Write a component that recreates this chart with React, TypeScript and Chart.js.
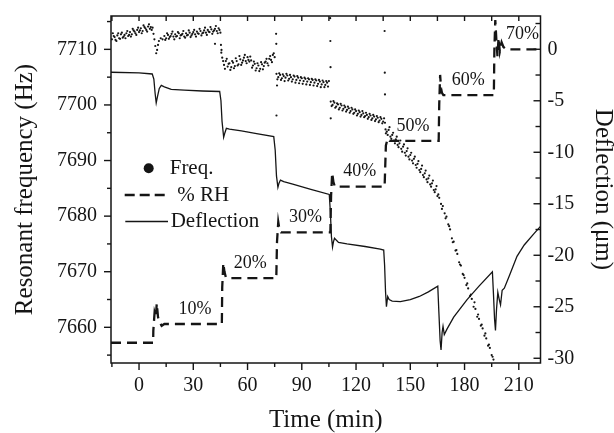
import React, { useEffect, useRef } from "react";
import { Chart, registerables } from "chart.js";

Chart.register(...registerables);

// ---------- data ----------
// Resonant frequency samples (time in min, frequency in Hz)
const freqTime = [
  -15, -14, -13, -12, -11, -10, -9, -8, -7, -6, -5, -4, -3, -2, -1, 0, 1, 2, 3, 4, 5, 6, 7, 8,
  9, 9.5, 10, 10.5, 11, 12, 13, 14,
  15, 16, 17, 18, 19, 20, 21, 22, 23, 24, 25, 26, 27, 28, 29, 30, 31, 32, 33, 34, 35, 36, 37, 38, 39, 40, 41, 42, 43, 44, 45,
  46, 47, 48, 49, 50, 51, 52, 53, 54, 55, 56, 57, 58, 59, 60, 61, 62, 63, 64, 65, 66, 67, 68, 69, 70, 71, 72, 73, 74, 75,
  76, 77, 78, 79, 80, 81, 82, 83, 84, 85, 86, 87, 88, 89, 90, 91, 92, 93, 94, 95, 96, 97, 98, 99, 100, 101, 102, 103, 104, 105,
  106, 107, 108, 109, 110, 111, 112, 113, 114, 115, 116, 117, 118, 119, 120, 121, 122, 123, 124, 125, 126, 127, 128, 129, 130, 131, 132, 133, 134, 135,
  136, 137, 138, 139, 140, 141, 142, 143, 144, 145, 146, 147, 148, 149, 150, 151, 152, 153, 154, 155, 156, 157, 158, 159, 160,
  161, 162, 163, 164, 165, 166, 167, 168, 169, 170, 171, 172, 173, 174, 175, 176, 177, 178, 179, 180,
  181, 182, 183, 184, 185, 186, 187, 188, 189, 190, 191, 192, 193, 194, 195, 196,
  42, 45.3, 45.6, 75.8, 75.9, 76.0, 76.3, 105.7, 105.8, 105.9, 106.0, 135.8, 135.9, 136.0, 136.3, 136.5,
  -14.5, -13.5, -12.5, -11.5, -10.5, -9.5, -8.5, -7.5, -6.5, -5.5, -4.5, -3.5, -2.5, -1.5, -0.5, 0.5, 1.5, 2.5, 3.5, 4.5, 5.5, 6.5, 7.5, 8.5,
  14.5, 15.5, 16.5, 17.5, 18.5, 19.5, 20.5, 21.5, 22.5, 23.5, 24.5, 25.5, 26.5, 27.5, 28.5, 29.5, 30.5, 31.5, 32.5, 33.5, 34.5, 35.5, 36.5, 37.5, 38.5, 39.5, 40.5, 41.5, 42.5, 43.5, 44.5,
  45.5, 46.5, 47.5, 48.5, 49.5, 50.5, 51.5, 52.5, 53.5, 54.5, 55.5, 56.5, 57.5, 58.5, 59.5, 60.5, 61.5, 62.5, 63.5, 64.5, 65.5, 66.5, 67.5, 68.5, 69.5, 70.5, 71.5, 72.5, 73.5, 74.5,
  76.5, 77.5, 78.5, 79.5, 80.5, 81.5, 82.5, 83.5, 84.5, 85.5, 86.5, 87.5, 88.5, 89.5, 90.5, 91.5, 92.5, 93.5, 94.5, 95.5, 96.5, 97.5, 98.5, 99.5, 100.5, 101.5, 102.5, 103.5, 104.5,
  106.5, 107.5, 108.5, 109.5, 110.5, 111.5, 112.5, 113.5, 114.5, 115.5, 116.5, 117.5, 118.5, 119.5, 120.5, 121.5, 122.5, 123.5, 124.5, 125.5, 126.5, 127.5, 128.5, 129.5, 130.5, 131.5, 132.5, 133.5, 134.5, 135.5,
  137.5, 138.5, 139.5, 140.5, 141.5, 142.5, 143.5, 144.5, 145.5, 146.5, 147.5, 148.5, 149.5, 150.5, 151.5, 152.5, 153.5, 154.5, 155.5, 156.5, 157.5, 158.5, 159.5, 160.5, 161.5, 162.5, 163.5, 164.5, 165.5,
  167.5, 169.5, 171.5, 173.5, 175.5, 177.5, 179.5, 181.5, 183.5, 185.5, 187.5, 189.5, 191.5, 193.5, 195.5,
];
const freqHz = [
  7711.8, 7712.4, 7711.7, 7712.5, 7712.0, 7712.7, 7712.1, 7712.6, 7712.9, 7712.4, 7713.1, 7712.7, 7713.4, 7712.9, 7713.5, 7713.1, 7713.8, 7713.3, 7714.0, 7713.5, 7714.1, 7713.7, 7713.5, 7712.8,
  7710.6, 7709.3, 7709.9, 7710.8, 7711.5, 7712.0, 7711.8, 7712.4,
  7712.0, 7712.6, 7712.2, 7712.8, 7712.3, 7712.7, 7712.4, 7712.9, 7712.5, 7712.8, 7712.3, 7712.9, 7712.6, 7713.0, 7712.5, 7713.1, 7712.7, 7713.2, 7712.8, 7713.3, 7712.9, 7713.4, 7713.0, 7713.5, 7713.1, 7713.6, 7713.2, 7713.7, 7713.3, 7713.8, 7713.0,
  7708.5, 7707.2, 7707.9, 7706.9, 7707.5, 7706.8, 7707.6, 7707.0, 7707.9, 7707.3, 7708.2, 7707.6, 7708.5, 7707.9, 7708.6, 7707.8, 7708.0, 7707.1, 7707.4, 7706.6, 7707.1, 7706.5, 7707.3, 7707.0, 7707.8, 7707.5, 7708.3, 7708.1, 7709.0, 7708.6,
  7705.6, 7705.0, 7705.4, 7704.8, 7705.2, 7704.9, 7705.3, 7704.7, 7705.0, 7704.6, 7705.1, 7704.5, 7704.9, 7704.4, 7704.8, 7704.3, 7704.7, 7704.2, 7704.6, 7704.1, 7704.5, 7704.0, 7704.4, 7703.8, 7704.2, 7703.7, 7704.1, 7703.6, 7704.0, 7704.3,
  7700.6, 7700.0, 7700.4, 7699.7, 7700.1, 7699.5, 7699.9, 7699.3, 7699.6, 7699.1, 7699.4, 7698.9, 7699.2, 7698.6, 7698.9, 7698.4, 7698.7, 7698.2, 7698.5, 7698.0, 7698.2, 7697.8, 7698.1, 7697.6, 7697.9, 7697.4, 7697.7, 7697.2, 7697.5, 7697.0,
  7696.8, 7695.2, 7695.5, 7694.3, 7694.6, 7693.6, 7693.8, 7692.8, 7693.1, 7692.1, 7692.5, 7691.4, 7691.7, 7690.7, 7691.0, 7690.0, 7690.3, 7689.2, 7689.4, 7688.3, 7688.5, 7687.4, 7687.7, 7686.6, 7686.8,
  7685.7, 7685.9, 7684.7, 7684.8, 7683.6, 7683.3, 7682.2, 7681.8, 7680.5, 7679.9, 7678.5, 7677.6, 7676.0, 7675.4, 7673.8, 7673.2, 7671.7, 7671.1, 7669.6, 7668.9,
  7667.6, 7667.0, 7665.6, 7665.1, 7663.7, 7663.3, 7661.9, 7661.5, 7660.3, 7659.8, 7658.5, 7658.0, 7656.7, 7656.3, 7655.0, 7654.2,
  7711.0, 7710.8, 7709.9, 7712.8, 7711.0, 7698.1, 7703.5, 7715.6, 7711.5, 7706.8, 7697.6, 7713.3, 7705.8, 7701.9, 7695.6, 7694.9,
  7712.9, 7712.2, 7711.5, 7712.9, 7711.9, 7713.0, 7712.3, 7712.0, 7713.3, 7712.6, 7712.3, 7713.7, 7713.2, 7712.6, 7713.9, 7713.4, 7712.9, 7714.3, 7713.8, 7713.2, 7714.5, 7714.0, 7713.9, 7711.8,
  7711.7, 7712.9, 7711.9, 7712.4, 7713.2, 7711.8, 7712.3, 7713.1, 7712.0, 7712.6, 7713.3, 7712.1, 7712.5, 7713.4, 7712.2, 7712.8, 7713.5, 7712.3, 7712.9, 7713.7, 7712.5, 7713.0, 7713.9, 7712.6, 7713.2, 7714.0, 7712.8, 7713.4, 7714.2, 7712.9, 7713.5,
  7709.4, 7707.9, 7706.5, 7708.3, 7707.4, 7706.3, 7707.9, 7706.6, 7708.4, 7707.1, 7708.8, 7707.2, 7708.0, 7709.0, 7707.5, 7708.1, 7708.7, 7706.7, 7707.8, 7706.2, 7707.5, 7706.1, 7707.7, 7706.4, 7707.6, 7708.3, 7707.1, 7708.8, 7707.7, 7709.3,
  7704.6, 7705.7, 7704.5, 7705.5, 7704.3, 7705.6, 7704.4, 7705.4, 7704.2, 7705.3, 7704.0, 7705.2, 7703.9, 7705.0, 7703.8, 7704.9, 7703.7, 7704.8, 7703.6, 7704.7, 7703.5, 7704.6, 7703.4, 7704.5, 7703.2, 7704.4, 7703.2, 7704.3, 7703.3,
  7699.8, 7700.7, 7699.5, 7700.3, 7699.2, 7700.2, 7699.0, 7699.9, 7698.8, 7699.7, 7698.6, 7699.5, 7698.4, 7699.2, 7698.1, 7699.0, 7697.9, 7698.9, 7697.8, 7698.6, 7697.5, 7698.4, 7697.3, 7698.2, 7697.1, 7698.0, 7696.9, 7697.8, 7696.7, 7697.6,
  7694.6, 7696.0, 7693.9, 7695.0, 7693.1, 7694.3, 7692.4, 7693.6, 7691.6, 7692.9, 7690.9, 7692.2, 7690.2, 7691.4, 7689.5, 7690.7, 7688.7, 7689.9, 7687.9, 7689.1, 7687.0, 7688.2, 7686.1, 7687.3, 7685.3, 7686.4, 7684.3, 7685.4, 7683.9,
  7681.3, 7679.6, 7678.2, 7675.3, 7673.9, 7671.3, 7669.4, 7667.9, 7665.9, 7664.5, 7662.3, 7660.5, 7658.9, 7656.9, 7654.7,
];

// Relative humidity program (time in min, % RH)
const rhTime = [
  -15.5, 7.8, 7.9, 8.6, 9.3, 9.8, 10.5, 11.5, 12.5, 14,
  45.8, 46.0, 46.6, 47.2, 48, 49.5,
  75.9, 76.3, 77.0, 77.6, 78.5,
  105.8, 106.2, 106.8, 107.5, 108.3,
  135.8, 136.5, 137.5, 138.5,
  165.7, 166.0, 166.5, 167.0, 167.5, 168.3,
  196.2, 196.5, 197.0, 197.6, 198.2, 198.8, 199.5, 200.5, 201.5, 203, 222,
];
const rhPercent = [
  5.9, 5.9, 8.5, 12.5, 11.5, 14.5, 11.5, 10.3, 9.6, 10,
  10, 18, 23.3, 21.5, 20.2, 20,
  20, 28, 32.3, 30.8, 30,
  30, 38, 43, 41, 40,
  40, 49, 50.5, 50,
  50, 58, 64.4, 61.5, 60.5, 60,
  60, 70, 76.4, 72, 68.5, 72.5, 69.5, 71.5, 70.5, 70, 70,
];

// Cantilever deflection (time in min, deflection in µm)
const deflTime = [
  -15.5, 0, 7.3, 8.2, 8.9, 9.5, 10.2, 11.2, 12.3, 14, 17.8, 25, 35, 44.6,
  45.3, 45.9, 46.8, 47.5, 48.3, 50, 56.6, 65, 74.5,
  75.3, 76.0, 76.8, 77.4, 78.2, 80, 85, 95, 105.2,
  105.8, 106.4, 107.0, 107.5, 108.1, 110.3, 115, 125, 133.4, 135.3,
  135.8, 136.3, 136.8, 137.5, 138.3, 140, 144.5, 150, 155, 160, 165.2,
  165.8, 166.5, 167.0, 167.6, 168.1, 168.8, 170.2, 174, 181.4, 188, 195.4,
  196.0, 196.6, 197.1, 197.7, 198.4, 199.2, 199.9, 200.8, 202, 205, 209, 213, 218.4, 222,
];
const deflUm = [
  -2.23, -2.3, -2.4, -2.9, -4.3, -5.2, -4.6, -3.8, -3.5, -3.65, -3.9, -3.97, -4.05, -4.1,
  -5.0, -7.0, -8.55, -8.1, -7.67, -7.75, -7.93, -8.2, -8.48,
  -9.8, -12.3, -13.4, -13.0, -12.7, -12.85, -13.1, -13.6, -14.1,
  -15.8, -18.2, -19.2, -18.7, -18.35, -18.75, -18.9, -19.15, -19.4, -19.5,
  -21.0, -23.5, -25.0, -24.0, -24.3, -24.45, -24.5, -24.3, -24.0, -23.55, -23.0,
  -25.5, -28.3, -29.2, -27.5, -26.9, -27.7, -27.2, -26.0, -24.3, -23.0, -21.6,
  -23.8, -26.2, -27.3, -25.2, -23.6, -24.3, -24.8, -23.4, -23.2, -21.9, -20.1, -19.0, -17.9, -17.2,
];

const rhLabelTime = [31, 61.5, 92, 122, 151.5, 182, 212];
const rhLabelLevel = [10, 20, 30, 40, 50, 60, 70];
const rhLabelText = ["10%", "20%", "30%", "40%", "50%", "60%", "70%"];

const xMajorTicks = [0, 30, 60, 90, 120, 150, 180, 210];
const xMinorTicks = [-15, 15, 45, 75, 105, 135, 165, 195];
const freqMajorTicks = [7660, 7670, 7680, 7690, 7700, 7710];
const freqMinorTicks = [7655, 7665, 7675, 7685, 7695, 7705, 7715];
const deflMajorTicks = [0, -5, -10, -15, -20, -25, -30];
const deflMinorTicks = [2.5, -2.5, -7.5, -12.5, -17.5, -22.5, -27.5];

const legendLabels = ["Freq.", "% RH", "Deflection"];
const axisTitles = { x: "Time (min)", freq: "Resonant frequency (Hz)", defl: "Deflection (\u03bcm)" };

// ---------- style ----------
const SERIF = "'Liberation Serif', 'Times New Roman', Times, serif";
const INK = "#151515";

const framePlugin = {
  id: "frameTicksLegend",
  afterDraw(chart: any) {
    const { ctx, chartArea: a, scales } = chart;
    const x = scales.x;
    const yl = scales.yFreq;
    const yr = scales.yDefl;
    const yh = scales.yRH;
    ctx.save();
    ctx.strokeStyle = INK;
    ctx.fillStyle = INK;
    ctx.setLineDash([]);
    ctx.lineWidth = 1.5;
    ctx.strokeRect(a.left, a.top, a.right - a.left, a.bottom - a.top);
    const seg = (x1: number, y1: number, x2: number, y2: number) => {
      ctx.beginPath();
      ctx.moveTo(x1, y1);
      ctx.lineTo(x2, y2);
      ctx.stroke();
    };
    ctx.lineWidth = 1.4;
    xMajorTicks.forEach((v) => {
      const p = x.getPixelForValue(v);
      seg(p, a.bottom, p, a.bottom + 7);
      seg(p, a.top, p, a.top + 5);
    });
    xMinorTicks.forEach((v) => {
      const p = x.getPixelForValue(v);
      seg(p, a.bottom, p, a.bottom + 4);
      seg(p, a.top, p, a.top + 5);
    });
    freqMajorTicks.forEach((v) => {
      const p = yl.getPixelForValue(v);
      seg(a.left - 7, p, a.left, p);
    });
    freqMinorTicks.forEach((v) => {
      const p = yl.getPixelForValue(v);
      seg(a.left - 4, p, a.left, p);
    });
    deflMajorTicks.forEach((v) => {
      const p = yr.getPixelForValue(v);
      seg(a.right - 7, p, a.right, p);
    });
    deflMinorTicks.forEach((v) => {
      const p = yr.getPixelForValue(v);
      seg(a.right - 5, p, a.right, p);
    });

    // step labels
    ctx.font = `18px ${SERIF}`;
    ctx.textAlign = "center";
    ctx.textBaseline = "middle";
    rhLabelText.forEach((t, i) => {
      ctx.fillText(t, x.getPixelForValue(rhLabelTime[i]), yh.getPixelForValue(rhLabelLevel[i]) - 15);
    });

    // legend
    ctx.font = `21px ${SERIF}`;
    ctx.textAlign = "left";
    ctx.beginPath();
    ctx.arc(148.7, 168.3, 5, 0, Math.PI * 2);
    ctx.fill();
    ctx.fillText(legendLabels[0], 169.7, 168);
    ctx.lineWidth = 2.3;
    ctx.setLineDash([10, 5]);
    seg(124.7, 195, 168, 195);
    ctx.setLineDash([]);
    ctx.fillText(legendLabels[1], 177.3, 195);
    ctx.lineWidth = 1.3;
    seg(125.3, 221.5, 168, 221.5);
    ctx.fillText(legendLabels[2], 170.7, 221);
    ctx.restore();
  },
};

export default function App() {
  const ref = useRef<HTMLCanvasElement>(null);
  useEffect(() => {
    document.body.style.margin = "0";
    const canvas = ref.current;
    if (!canvas) return;
    const tickFont = { family: SERIF, size: 20 };
    const titleFont = { family: SERIF, size: 25 };
    const fitVertical = (w: number) => (s: any) => {
      s.width = w;
      s.paddingTop = 0;
      s.paddingBottom = 0;
    };
    const chart = new Chart(canvas, {
      type: "scatter",
      data: {
        datasets: [
          {
            label: legendLabels[0],
            data: freqTime.map((t, i) => ({ x: t, y: freqHz[i] })),
            yAxisID: "yFreq",
            pointRadius: 1.1,
            pointBorderWidth: 0,
            backgroundColor: INK,
            borderColor: INK,
            showLine: false,
          },
          {
            label: legendLabels[1],
            data: rhTime.map((t, i) => ({ x: t, y: rhPercent[i] })),
            yAxisID: "yRH",
            showLine: true,
            pointRadius: 0,
            borderColor: INK,
            borderWidth: 2.3,
            borderDash: [10, 6],
          },
          {
            label: legendLabels[2],
            data: deflTime.map((t, i) => ({ x: t, y: deflUm[i] })),
            yAxisID: "yDefl",
            showLine: true,
            pointRadius: 0,
            borderColor: INK,
            borderWidth: 1.3,
          },
        ],
      },
      options: {
        responsive: false,
        animation: false,
        devicePixelRatio: 1,
        events: [],
        layout: { padding: { top: 16, left: 0, right: 0, bottom: 0 } },
        plugins: { legend: { display: false }, tooltip: { enabled: false } },
        scales: {
          x: {
            type: "linear",
            position: "bottom",
            min: -15.5,
            max: 222,
            afterBuildTicks: (s: any) => {
              s.ticks = xMajorTicks.map((v) => ({ value: v }));
            },
            afterFit: (s: any) => {
              s.height = 70;
              s.paddingLeft = 0;
              s.paddingRight = 0;
            },
            grid: { display: false, drawTicks: false },
            border: { display: false },
            ticks: {
              font: tickFont,
              color: INK,
              padding: 11,
              maxRotation: 0,
              autoSkip: false,
              callback: (v: any) => String(v),
            },
            title: {
              display: true,
              text: axisTitles.x,
              font: { ...titleFont, lineHeight: 1.0 },
              color: INK,
              padding: { top: 0, bottom: 0.5 },
            },
          },
          yFreq: {
            type: "linear",
            position: "left",
            min: 7653.58,
            max: 7716.0,
            afterBuildTicks: (s: any) => {
              s.ticks = freqMajorTicks.map((v) => ({ value: v }));
            },
            afterFit: fitVertical(111),
            grid: { display: false, drawTicks: false },
            border: { display: false },
            ticks: {
              font: tickFont,
              color: INK,
              padding: 14,
              autoSkip: false,
              callback: (v: any) => String(v),
            },
            title: {
              display: true,
              text: axisTitles.freq,
              font: { ...titleFont, lineHeight: 1.2 },
              color: INK,
              padding: { top: 10, bottom: 0 },
            },
          },
          yDefl: {
            type: "linear",
            position: "right",
            min: -30.46,
            max: 3.23,
            afterBuildTicks: (s: any) => {
              s.ticks = deflMajorTicks.map((v) => ({ value: v }));
            },
            afterFit: fitVertical(73.5),
            grid: { display: false, drawTicks: false },
            border: { display: false },
            ticks: {
              font: tickFont,
              color: INK,
              padding: 7,
              autoSkip: false,
              callback: (v: any) => String(v),
            },
            title: {
              display: true,
              text: axisTitles.defl,
              font: { ...titleFont, lineHeight: 0.88 },
              color: INK,
              padding: { top: 0, bottom: 0 },
            },
          },
          yRH: {
            type: "linear",
            display: false,
            min: 1.48,
            max: 77.27,
          },
        },
      } as any,
      plugins: [framePlugin],
    });
    return () => chart.destroy();
  }, []);
  return (
    <div style={{ width: 614, height: 433, position: "relative", background: "#fff" }}>
      <canvas ref={ref} width={614} height={433} />
    </div>
  );
}
